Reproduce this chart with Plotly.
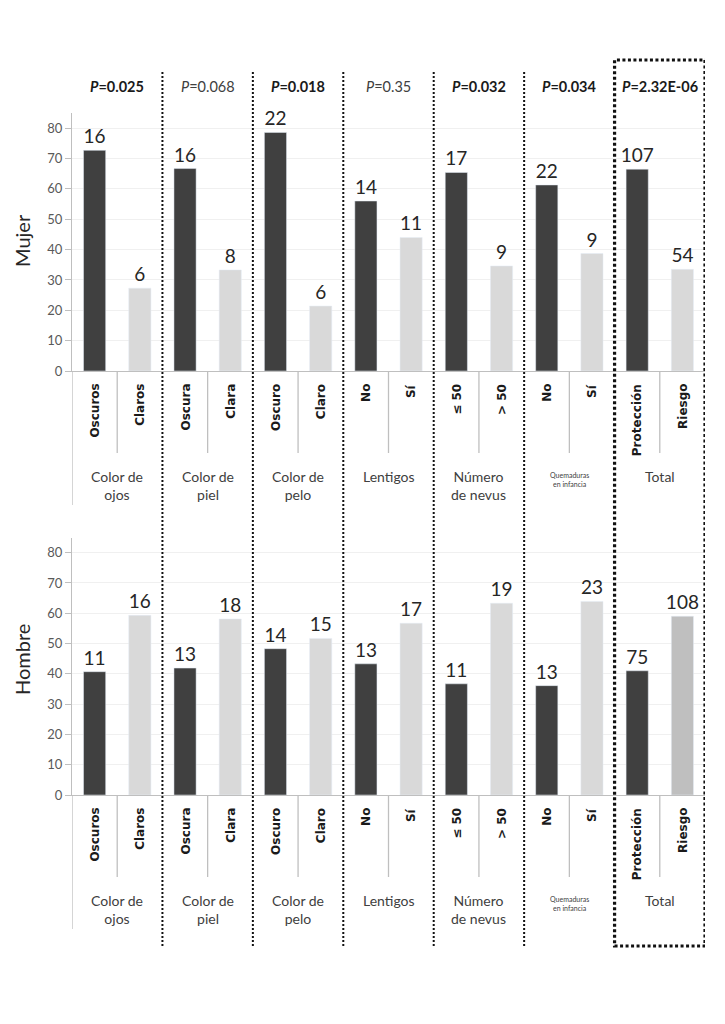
import plotly.graph_objects as go

# ---------------- data ----------------
groups = ["Color de<br>ojos", "Color de<br>piel", "Color de<br>pelo", "Lentigos",
          "Número<br>de nevus", "Quemaduras<br>en infancia", "Total"]
categories = ["Oscuros", "Claros", "Oscura", "Clara", "Oscuro", "Claro", "No", "Sí",
              "≤ 50", "> 50", "No", "Sí", "Protección", "Riesgo"]
mujer_pct = [72.7, 27.3, 66.7, 33.3, 78.6, 21.4, 56.0, 44.0, 65.4, 34.6, 61.3, 38.7, 66.5, 33.5]
mujer_n = [16, 6, 16, 8, 22, 6, 14, 11, 17, 9, 22, 9, 107, 54]
hombre_pct = [40.7, 59.3, 41.9, 58.1, 48.3, 51.7, 43.3, 56.7, 36.7, 63.3, 36.1, 63.9, 41.0, 59.0]
hombre_n = [11, 16, 13, 18, 14, 15, 13, 17, 11, 19, 13, 23, 75, 108]
p_values = ["0.025", "0.068", "0.018", "0.35", "0.032", "0.034", "2.32E-06"]
p_significant = [True, False, True, False, True, True, True]
y_ticks = [0, 10, 20, 30, 40, 50, 60, 70, 80]

# ---------------- styling ----------------
DARK = "#404040"
LIGHT = "#d9d9d9"
MID = "#bfbfbf"
AX = "#bfbfbf"
OFF = 8  # page body margin
W, H = 725 - OFF, 1024 - OFF
L, R = 72 - OFF, 20
T = 113 - OFF
B = H - (795 - OFF)
PH = H - T - B
PW = W - L - R


def py(yref):
    return (H - B - (yref - OFF)) / PH


def px(xref):
    return (xref - OFF - L) / PW


x_pos = list(range(len(categories)))
cols_m = [DARK if i % 2 == 0 else LIGHT for i in x_pos]
cols_h = [DARK if i % 2 == 0 else LIGHT for i in x_pos]
cols_h[-1] = MID

fig = go.Figure()
fig.add_trace(go.Bar(x=x_pos, y=mujer_pct, marker_color=cols_m, width=0.49,
                     text=[str(v) for v in mujer_n], textposition="outside",
                     constraintext="none", cliponaxis=False,
                     textfont=dict(family="Lato", size=19, color="#262626"),
                     xaxis="x", yaxis="y", showlegend=False))
fig.add_trace(go.Bar(x=x_pos, y=hombre_pct, marker_color=cols_h, width=0.49,
                     text=[str(v) for v in hombre_n], textposition="outside",
                     constraintext="none", cliponaxis=False,
                     textfont=dict(family="Lato", size=19, color="#262626"),
                     xaxis="x2", yaxis="y2", showlegend=False))

yax = dict(range=[0, 85], tickvals=y_ticks, showgrid=True, gridcolor="#f0f0f0",
           showline=True, linecolor=AX, linewidth=1, ticks="outside", ticklen=6,
           tickcolor=AX, tickfont=dict(family="Lato", size=13, color="#595959"),
           zeroline=False, fixedrange=True)
xax = dict(range=[-0.5, 13.5], showticklabels=False, showgrid=False, zeroline=False,
           showline=True, linecolor=AX, linewidth=1, ticks="")

fig.update_layout(
    width=W, height=H, paper_bgcolor="white", plot_bgcolor="white",
    margin=dict(l=L, r=R, t=T, b=B),
    xaxis=dict(domain=[0, 1], anchor="y", **xax),
    xaxis2=dict(domain=[0, 1], anchor="y2", **xax),
    yaxis=dict(domain=[py(371), py(113)], anchor="x", **yax),
    yaxis2=dict(domain=[py(795), py(537.5)], anchor="x2", **yax),
    bargap=0.5,
)

ann = []
shapes = []
# y axis titles
for title, yc in (("Mujer", 241), ("Hombre", 660)):
    ann.append(dict(text=title, x=px(22), y=py(yc), xref="paper", yref="paper",
                    showarrow=False, textangle=-90, xanchor="center", yanchor="middle",
                    font=dict(family="Lato", size=20, color="#262626")))

# P values
for g, (p, sig) in enumerate(zip(p_values, p_significant)):
    txt = f"<i>P</i>={p}"
    if sig:
        txt = f"<b>{txt}</b>"
    ann.append(dict(text=txt, x=2 * g + 0.5, y=py(86), xref="x", yref="paper",
                    showarrow=False, yanchor="middle",
                    font=dict(family="Lato", size=14.5, color="#1a1a1a" if sig else "#404040")))

for off in (0, 424):
    # category labels
    for i, c in enumerate(categories):
        ann.append(dict(text=f"<b>{c}</b>", x=i, y=py(382 + off), xref="x", yref="paper",
                        showarrow=False, textangle=-90, yanchor="top", xanchor="center",
                        font=dict(family="DejaVu Sans", size=12, color="#1a1a1a")))
    # group labels
    for g, gl in enumerate(groups):
        small = gl.startswith("Quemaduras")
        ann.append(dict(text=gl, x=2 * g + 0.5, y=py((469 if small else 466) + off),
                        xref="x", yref="paper", showarrow=False, yanchor="top",
                        font=dict(family="Lato", size=7 if small else 14, color="#404040")))
        # inner separators
        shapes.append(dict(type="line", xref="x", yref="paper", x0=2 * g + 0.5, x1=2 * g + 0.5,
                           y0=py(371 + off), y1=py(453 + off),
                           line=dict(color=AX, width=1.3)))
    # left axis extension
    shapes.append(dict(type="line", xref="x", yref="paper", x0=-0.5, x1=-0.5,
                       y0=py(371 + off), y1=py(505 + off), line=dict(color=AX, width=1.3)))

# dotted group separators
for g in range(1, 6):
    xb = 2 * g - 0.5
    shapes.append(dict(type="line", xref="x", yref="paper", x0=xb, x1=xb,
                       y0=py(72), y1=py(946),
                       line=dict(color="#111111", width=2, dash="2px,2px")))
# Total box
shapes.append(dict(type="rect", xref="x", yref="paper", x0=11.5, x1=13.5,
                   y0=py(946), y1=py(60),
                   line=dict(color="#111111", width=3.2, dash="3px,2.5px")))

fig.update_layout(annotations=ann, shapes=shapes)
fig.write_html("out.html")
